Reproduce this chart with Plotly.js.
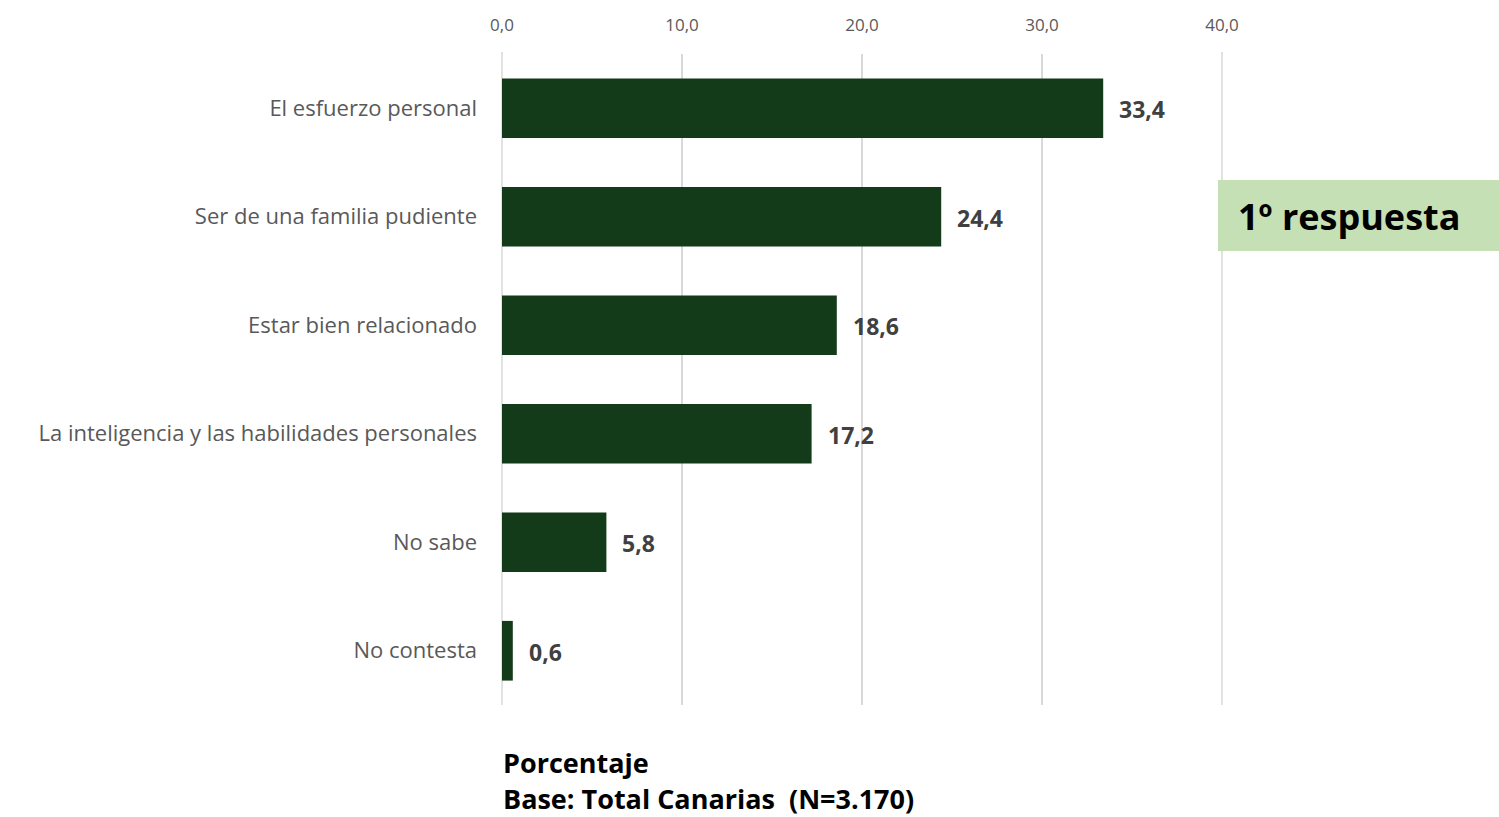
<!DOCTYPE html>
<html><head><meta charset="utf-8">
<script src="https://cdn.plot.ly/plotly-3.0.1.min.js"></script>
<style>html,body{margin:0;padding:0;background:#fff}#chart{width:1499px;height:817px}</style>
</head><body><div id="chart"></div>
<script>
const categories = ["El esfuerzo personal","Ser de una familia pudiente","Estar bien relacionado","La inteligencia y las habilidades personales","No sabe","No contesta"];
const values = [33.4, 24.4, 18.6, 17.2, 5.8, 0.6];
const tickValues = [0, 10, 20, 30, 40];
const badgeText = "1º respuesta";
const footLines = ["Porcentaje", "Base: Total Canarias  (N=3.170)"];

const xMin = 0, xMax = 40;
const fontFam = "'Open Sans', Lato, sans-serif";
const trace = {
  type: "bar", orientation: "h",
  x: values, y: categories,
  marker: {color: "#133A19"},
  hoverinfo: "x+y"
};
const annotations = values.map((v, i) => ({
  x: v, y: categories[i], xref: "x", yref: "y",
  text: "<b>" + v.toFixed(1).replace(".", ",") + "</b>",
  showarrow: false, xanchor: "left", yanchor: "middle", xshift: 14, yshift: -1,
  font: {family: fontFam, size: 23, color: "#404040"}
}));
footLines.forEach((t, i) => annotations.push({
  xref: "paper", yref: "paper", x: 0, y: (705 - (762 + 36 * i)) / 651,
  xanchor: "left", yanchor: "middle", xshift: -1,
  text: "<b>" + t + "</b>", align: "left", showarrow: false,
  font: {family: fontFam, size: 27, color: "#000"}
}));
annotations.push({
  xref: "paper", yref: "paper", x: (1349-502)/720, y: (705-217)/651,
  text: "<b>" + badgeText + "</b>", showarrow: false, xanchor: "center", yanchor: "middle",
  font: {family: fontFam, size: 36, color: "#000"}
});
const layout = {
  width: 1499, height: 817,
  margin: {l: 502, r: 277, t: 54, b: 112},
  separators: ",.",
  paper_bgcolor: "#fff", plot_bgcolor: "#fff",
  bargap: 0.45,
  showlegend: false,
  font: {family: fontFam},
  xaxis: {
    side: "top", range: [xMin, xMax], tickvals: tickValues, tickformat: ".1f",
    showgrid: true, gridcolor: "#D9D9D9", gridwidth: 1.5,
    zeroline: false, showline: false, ticks: "",
    ticklabelstandoff: 19,
    tickfont: {family: fontFam, size: 17, color: "#595959"}
  },
  yaxis: {
    autorange: "reversed", showgrid: false, zeroline: false, showline: false, ticks: "",
    ticklabelstandoff: 24,
    tickfont: {family: fontFam, size: 22, color: "#595959"}
  },
  shapes: tickValues.filter(t => t === xMin || t === xMax).map(t => ({
    type: "line", xref: "paper", yref: "paper",
    x0: (t - xMin) / (xMax - xMin), x1: (t - xMin) / (xMax - xMin), y0: 0, y1: 1.003,
    line: {color: "#D9D9D9", width: 1.5}, layer: "below"
  })).concat([{
    type: "rect", xref: "paper", yref: "paper",
    x0: 716/720, x1: 997/720, y0: (705-251)/651, y1: (705-180)/651,
    fillcolor: "#C5E0B4", line: {width: 0}, layer: "above"
  }]),
  annotations: annotations
};
Plotly.newPlot("chart", [trace], layout, {displayModeBar: false, staticPlot: true});
</script></body></html>
